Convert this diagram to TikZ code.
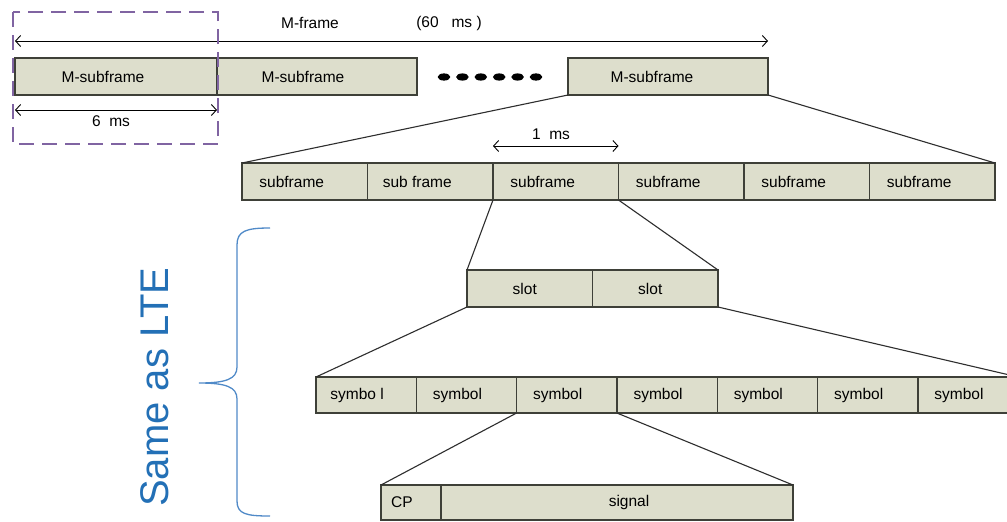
\documentclass[tikz,border=0pt]{standalone}
\usepackage{fontspec}
\setmainfont{Liberation Sans}
\usetikzlibrary{arrows.meta}
\definecolor{cellfill}{RGB}{221,222,204}
\definecolor{cellline}{RGB}{62,64,56}
\definecolor{framepurple}{RGB}{128,100,162}
\definecolor{bracecol}{RGB}{80,138,200}
\definecolor{ltetext}{RGB}{35,112,182}
\newcommand\cellfont{\fontsize{15.5}{18}\selectfont}
\begin{document}
\begin{tikzpicture}[x=1pt,y=-1pt,
  cell/.style={draw=cellline, fill=cellfill, line width=1.4pt, minimum height=37pt,
    inner sep=0pt, outer sep=0pt, anchor=north west, font=\cellfont},
  pad/.style={execute at begin node={\hspace*{#1}}},
  fan/.style={draw=black!82, line width=1.1pt},
  span/.style={draw=black, line width=0.9pt,
    arrows={Straight Barb[length=5pt,width=11pt]-Straight Barb[length=5pt,width=11pt]}},
  lbl/.style={font=\cellfont, inner sep=1pt}]
\fill[white] (0,0) rectangle (1007,522);
\useasboundingbox (0,0) rectangle (1007,522);
\clip (0,0) rectangle (1007,522);

% M-subframes
\node[cell, minimum width=202pt, pad=-26pt] (ms1) at (15,58) {M-subframe};
\node[cell, minimum width=200pt, pad=-28pt] (ms2) at (ms1.north east) {M-subframe};
\node[cell, minimum width=200pt, pad=-32pt] (ms3) at (568,58) {M-subframe};
\foreach \i in {0,...,5}
  \fill (444+18.4*\i,77) ellipse [x radius=6.3pt, y radius=3.6pt];

% M-frame span
\coordinate (mfL) at ([yshift=17pt]ms1.north west);
\coordinate (mfR) at ([yshift=17pt]ms3.north east);
\draw[span] (mfL) -- (mfR);
\node[lbl] (mft) at (310,23) {M-frame};
\node[lbl] (mfd) at (449,23) {(60\ \ \ ms )};

% 6 ms span and dashed outline
\coordinate (sxL) at ([yshift=-15pt]ms1.south west);
\coordinate (sxR) at ([yshift=-15pt]ms1.south east);
\draw[span] (sxL) -- (sxR);
\node[lbl] (sxt) at (111,121) {6\ \ ms};
\draw[framepurple, line width=2pt, dash pattern=on 15pt off 8pt] (13,12) rectangle (218,144);

% subframes
\node[cell, minimum width=125.5pt, pad=-26pt] (sf1) at (242,163) {subframe};
\node[cell, minimum width=125.5pt, pad=-26pt] (sf2) at (sf1.north east) {sub frame};
\node[cell, minimum width=125.5pt, pad=-26pt] (sf3) at (sf2.north east) {subframe};
\node[cell, minimum width=125.5pt, pad=-26pt] (sf4) at (sf3.north east) {subframe};
\node[cell, minimum width=125.5pt, pad=-26pt] (sf5) at (sf4.north east) {subframe};
\node[cell, minimum width=125.5pt, pad=-26pt] (sf6) at (sf5.north east) {subframe};
\draw[fan] (ms3.south west) -- (sf1.north west);
\draw[fan] (ms3.south east) -- (sf6.north east);
\coordinate (omL) at ([yshift=17pt]sf3.north west);
\coordinate (omR) at ([yshift=17pt]sf3.north east);
\draw[span] (omL) -- (omR);
\node[lbl] (omt) at (551,134) {1\ \ ms};

% slots
\node[cell, minimum width=125.5pt, pad=-10pt] (sl1) at (467,270) {slot};
\node[cell, minimum width=125.5pt, pad=-10pt] (sl2) at (sl1.north east) {slot};
\draw[fan] (sf3.south west) -- (sl1.north west);
\draw[fan] (sf3.south east) -- (sl2.north east);

% symbols
\node[cell, minimum width=100.3pt, minimum height=36pt, pad=-18pt] (sy1) at (316,377) {symbo l};
\foreach \p/\n in {1/2,2/3,3/4,4/5,5/6,6/7}
  \node[cell, minimum width=100.3pt, minimum height=36pt, pad=-18pt] (sy\n) at (sy\p.north east) {symbol};
\draw[fan] (sl1.south west) -- (sy1.north west);
\draw[fan] (sl2.south east) -- (sy7.north east);

% cyclic prefix and signal
\node[cell, minimum width=60pt, minimum height=35pt, pad=-18pt] (cp) at (381,485) {CP};
\node[cell, minimum width=352pt, minimum height=35pt, pad=24pt] (sig) at (cp.north east) {signal};
\draw[fan] (sy3.south west) -- (cp.north west);
\draw[fan] (sy3.south east) -- (sig.north east);

% brace with its caption
\draw[bracecol, line width=1.3pt]
  (270,228) .. controls (246,228) and (237,231) .. (237,245) -- (237,367)
  .. controls (237,379) and (226,383) .. (199,383)
  .. controls (226,383) and (237,387) .. (237,399) -- (237,501)
  .. controls (237,514) and (246,516) .. (270,516);
\node[rotate=90, text=ltetext, font=\fontsize{40}{43}\selectfont] (lte) at (155,387) {Same as LTE};
\end{tikzpicture}
\end{document}
